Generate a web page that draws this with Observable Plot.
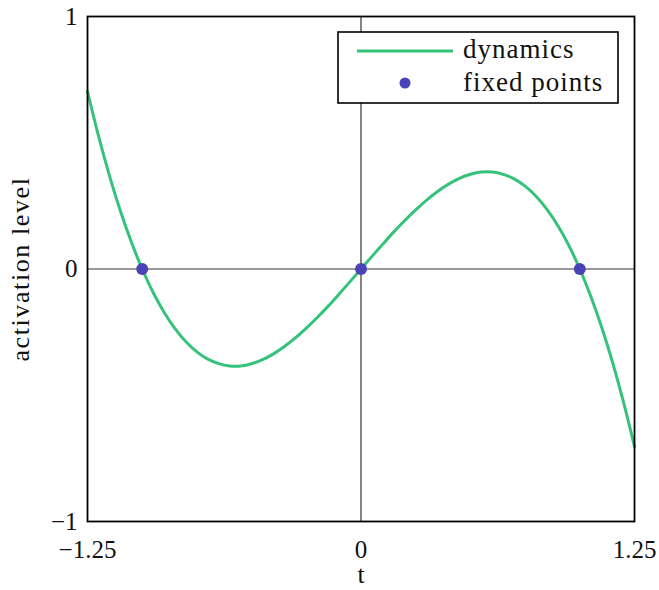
<!DOCTYPE html>
<html>
<head>
<meta charset="utf-8">
<script src="https://cdn.jsdelivr.net/npm/d3@7"></script>
<script src="https://cdn.jsdelivr.net/npm/@observablehq/plot@0.6"></script>
<style>
  html, body { margin: 0; padding: 0; background: #fff; }
  #chart { position: relative; width: 659px; height: 590px; }
  #legend { position: absolute; left: 0; top: 0; pointer-events: none; }
</style>
</head>
<body>
<div id="chart"></div>
<script>
// Sampled dynamics curve: activation level as a function of t
const tValues = [
  -1.25, -1.20, -1.15, -1.10, -1.05, -1.00, -0.95, -0.90, -0.85, -0.80,
  -0.75, -0.70, -0.65, -0.60, -0.55, -0.50, -0.45, -0.40, -0.35, -0.30,
  -0.25, -0.20, -0.15, -0.10, -0.05, 0.00, 0.05, 0.10, 0.15, 0.20,
  0.25, 0.30, 0.35, 0.40, 0.45, 0.50, 0.55, 0.60, 0.65, 0.70,
  0.75, 0.80, 0.85, 0.90, 0.95, 1.00, 1.05, 1.10, 1.15, 1.20, 1.25
];
const activation = [
  0.703, 0.528, 0.371, 0.231, 0.108, 0.000, -0.093, -0.171, -0.236, -0.288,
  -0.328, -0.357, -0.375, -0.384, -0.384, -0.375, -0.359, -0.336, -0.307, -0.273,
  -0.234, -0.192, -0.147, -0.099, -0.050, 0.000, 0.050, 0.099, 0.147, 0.192,
  0.234, 0.273, 0.307, 0.336, 0.359, 0.375, 0.384, 0.384, 0.375, 0.357,
  0.328, 0.288, 0.236, 0.171, 0.093, 0.000, -0.108, -0.231, -0.371, -0.528, -0.703
];

// Fixed points where the activation crosses zero
const fixedT = [-1, 0, 1];
const fixedA = [0, 0, 0];

const xTicks = [-1.25, 0, 1.25];
const yTicks = [-1, 0, 1];
const xLabel = "t";
const yLabel = "activation level";
const legendLabels = ["dynamics", "fixed points"];

const lineColor = "#35c27a";
const dotColor = "#4a43b8";
const serif = "'Liberation Serif', serif";

const curve = tValues.map((t, i) => ({t, a: activation[i]}));
const fixed = fixedT.map((t, i) => ({t, a: fixedA[i]}));

const fmt = d => (d < 0 ? "\u2212" : "") + Math.abs(d);

const plot = Plot.plot({
  width: 659,
  height: 590,
  marginLeft: 87,
  marginRight: 25,
  marginTop: 16,
  marginBottom: 69,
  style: {fontSize: "25px", fontFamily: serif, color: "#111", background: "#fff"},
  x: {domain: [-1.25, 1.25], ticks: xTicks, tickFormat: fmt, tickSize: 0, tickPadding: 19, label: null},
  y: {domain: [-1, 1], ticks: yTicks, tickFormat: fmt, tickSize: 0, tickPadding: 10, label: null},
  marks: [
    Plot.ruleX([0], {stroke: "#333", strokeWidth: 1.2}),
    Plot.ruleY([0], {stroke: "#333", strokeWidth: 1.2}),
    Plot.line(curve, {x: "t", y: "a", stroke: lineColor, strokeWidth: 3, curve: "catmull-rom"}),
    Plot.dot(fixed, {x: "t", y: "a", r: 6, fill: dotColor}),
    Plot.frame({stroke: "#000", strokeWidth: 1.8}),
    // axis titles
    Plot.text([xLabel], {frameAnchor: "bottom", lineAnchor: "middle", dy: 53, fontSize: 26, fill: "#111"}),
    Plot.text([yLabel], {frameAnchor: "left", textAnchor: "middle", lineAnchor: "middle", dx: -67, rotate: -90, fontSize: 26, fill: "#111"})
  ]
});

// slightly looser tracking on the axis title
d3.select(plot).selectAll("text")
  .filter(function () { return this.textContent === yLabel; })
  .attr("letter-spacing", 1.6);

const chart = document.getElementById("chart");
chart.appendChild(plot);

// Legend box in the upper right of the plot area
const svg = d3.select(chart).append("svg")
  .attr("id", "legend")
  .attr("width", 659)
  .attr("height", 590);
const g = svg.append("g").attr("transform", "translate(338,32)");
g.append("rect")
  .attr("x", 0).attr("y", 0).attr("width", 280).attr("height", 71)
  .attr("fill", "#fff").attr("stroke", "#000").attr("stroke-width", 1.6);
g.append("line")
  .attr("x1", 19).attr("x2", 115).attr("y1", 19).attr("y2", 19)
  .attr("stroke", lineColor).attr("stroke-width", 3);
g.append("circle")
  .attr("cx", 67).attr("cy", 51).attr("r", 5.5).attr("fill", dotColor);
g.selectAll("text.lbl")
  .data(legendLabels)
  .join("text")
  .attr("class", "lbl")
  .attr("x", 125)
  .attr("y", (d, i) => 26 + i * 33)
  .attr("font-family", serif)
  .attr("font-size", 27)
  .attr("letter-spacing", 1)
  .attr("fill", "#111")
  .text(d => d);
</script>
</body>
</html>
